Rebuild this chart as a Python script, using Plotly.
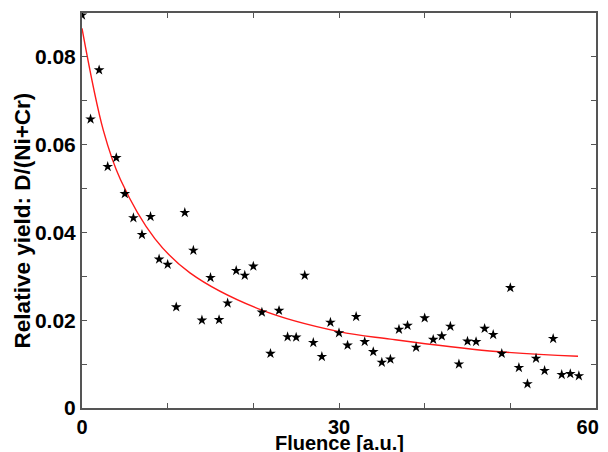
import plotly.graph_objects as go

fluence = list(range(0, 59))
yield_vals = [0.0895, 0.0658, 0.0770, 0.0550, 0.0570, 0.0488, 0.0433, 0.0395, 0.0436, 0.0339,
              0.0327, 0.0230, 0.0445, 0.0359, 0.0200, 0.0297, 0.0201, 0.0239, 0.0313, 0.0302,
              0.0323, 0.0218, 0.0124, 0.0222, 0.0162, 0.0161, 0.0302, 0.0149, 0.0117, 0.0195,
              0.0171, 0.0143, 0.0208, 0.0151, 0.0128, 0.0104, 0.0111, 0.0179, 0.0188, 0.0138,
              0.0205, 0.0156, 0.0164, 0.0186, 0.0100, 0.0152, 0.0151, 0.0181, 0.0167, 0.0124,
              0.0274, 0.0092, 0.0055, 0.0113, 0.0085, 0.0158, 0.0076, 0.0078, 0.0073]

fit_x = [0.0, 2.5, 4.5, 8.5, 12.6, 21.0, 30.0, 36.0, 47.6, 57.9]
fit_y = [0.0865, 0.0632, 0.0520, 0.0386, 0.0308, 0.0223, 0.0174, 0.0157, 0.0130, 0.0118]

x_tickvals = [0, 10, 20, 30, 40, 50, 60]
x_ticktext = ["0", "", "", "30", "", "", "60&nbsp;&nbsp;&nbsp;"]
y_tickvals = [0, 0.01, 0.02, 0.03, 0.04, 0.05, 0.06, 0.07, 0.08, 0.09]
y_ticktext = ["0", "", "0.02", "", "0.04", "", "0.06", "", "0.08", ""]

x_title = "<b>Fluence [a.u.]</b>"
y_title = "<b>Relative yield: D/(Ni+Cr)</b>"

fig = go.Figure()
fig.add_trace(go.Scatter(x=fit_x, y=fit_y, mode="lines",
                         line=dict(color="#ff1a1a", width=1.4, shape="spline"),
                         showlegend=False))
fig.add_trace(go.Scatter(x=fluence, y=yield_vals, mode="markers",
                         marker=dict(symbol="star", color="black", size=8),
                         showlegend=False))

font_family = "Liberation Sans, Arial, sans-serif"
axis_common = dict(showgrid=False, zeroline=False, showline=True, linecolor="#555555",
                   linewidth=2, mirror="ticks", ticks="inside", ticklen=5, tickcolor="#555555",
                   automargin=False, ticklabeloverflow="allow")

fig.update_xaxes(range=[0, 60], tickvals=x_tickvals, ticktext=x_ticktext,
                 tickfont=dict(family=font_family, size=20, color="black", weight="bold"),
                 **axis_common)
fig.update_yaxes(range=[0, 0.09], tickvals=y_tickvals, ticktext=y_ticktext,
                 tickfont=dict(family=font_family, size=21, color="black", weight="bold"),
                 **axis_common)

fig.add_annotation(text=x_title, xref="paper", yref="paper", x=0.5, y=-0.0886,
                   xanchor="center", yanchor="middle", showarrow=False,
                   font=dict(family=font_family, size=20, color="black"))
fig.add_annotation(text=y_title, xref="paper", yref="paper", x=-0.1167, y=0.475,
                   xanchor="center", yanchor="middle", showarrow=False, textangle=-90,
                   font=dict(family=font_family, size=22.5, color="black"))

fig.update_layout(width=600, height=444, margin=dict(l=74, r=12, t=5, b=44),
                  paper_bgcolor="white", plot_bgcolor="white")

fig.write_html("out.html")
